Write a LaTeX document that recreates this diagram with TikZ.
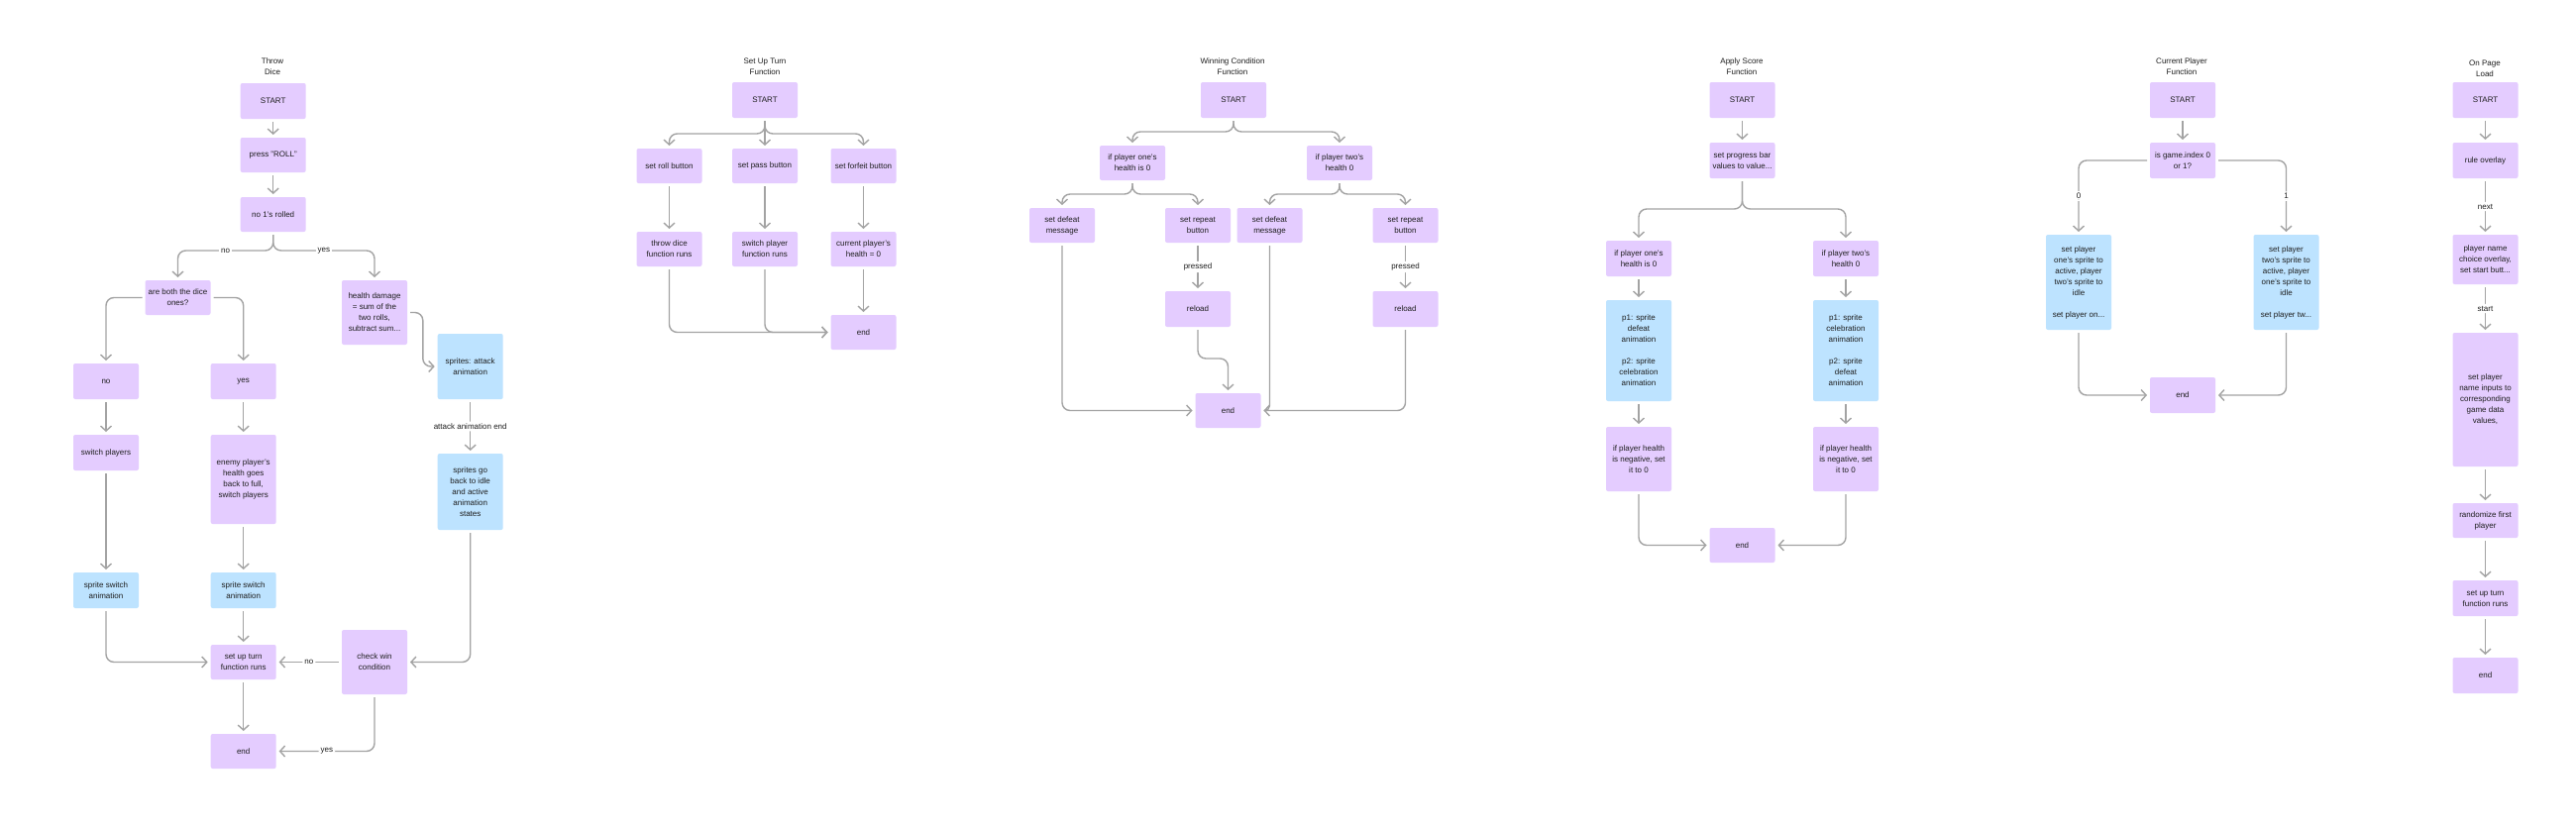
\documentclass[tikz,border=0pt]{standalone}
\usepackage{fontspec}
\setmainfont{Liberation Sans}
\usetikzlibrary{arrows.meta}
\definecolor{pfill}{HTML}{E4CCFF}
\definecolor{bfill}{HTML}{BDE3FF}
\definecolor{lgray}{HTML}{A3A3A3}
\definecolor{txt}{HTML}{1E1E1E}
\tikzset{
  box/.style={rounded corners=2pt, inner sep=0pt, outer sep=3pt, align=center, text=txt,
    font=\fontsize{8}{11}\selectfont, minimum width=66pt, minimum height=36pt},
  pbox/.style={box, fill=pfill},
  bbox/.style={box, fill=bfill},
  conn/.style={draw=lgray, line width=1.4pt, -{Straight Barb[length=5pt,width=11pt]}, rounded corners=8pt},
  plain/.style={draw=lgray, line width=1.4pt, rounded corners=8pt},
  lbl/.style={fill=white, inner sep=2pt, text=txt, font=\fontsize{8}{11}\selectfont},
  ttl/.style={align=center, text=txt, font=\fontsize{8}{11}\selectfont}
}
\begin{document}
\begin{tikzpicture}[x=1pt, y=-1pt]
\useasboundingbox[fill=white] (0,0) rectangle (2600,835);

% ===== Throw Dice =====
\node[ttl] (a0) at (275,67.5) {Throw\\Dice};
\node[pbox] (a1) at (275.7,102) {START};
\node[pbox, minimum height=35pt] (a2) at (275.7,156.5) {press "ROLL"};
\node[pbox, minimum height=35pt] (a3) at (275.7,216.5) {no 1's rolled};
\node[pbox, minimum height=35pt] (a4) at (179.5,300.5) {are both the dice\\ones?};
\node[pbox, minimum height=65pt] (a5) at (378,315.5) {health damage\\= sum of the\\two rolls,\\subtract sum...};
\node[bbox, minimum height=66pt] (a6) at (474.7,370) {sprites: attack\\animation};
\node[pbox] (a7) at (107,385) {no};
\node[pbox] (a8) at (245.7,385) {yes};
\node[pbox] (a9) at (107,457) {switch players};
\node[pbox, minimum height=90pt] (a10) at (245.7,484) {enemy player's\\health goes\\back to full,\\switch players};
\node[bbox] (a11) at (107,596) {sprite switch\\animation};
\node[bbox] (a12) at (245.7,596) {sprite switch\\animation};
\node[pbox, minimum height=35pt] (a13) at (245.7,668.5) {set up turn\\function runs};
\node[pbox, minimum height=35pt] (a14) at (245.7,758.5) {end};
\node[pbox, minimum height=65pt] (a15) at (378,668.5) {check win\\condition};
\node[bbox, minimum height=77pt] (a16) at (474.7,496.5) {sprites go\\back to idle\\and active\\animation\\states};

\draw[conn] (a1) -- (a2);
\draw[conn] (a2) -- (a3);
\draw[conn] (a3.south) -- (275.7,253) -| (a4.north);
\draw[conn] (a3.south) -- (275.7,253) -| (a5.north);
\node[lbl] (la1) at (227.5,253) {no};
\node[lbl] (la2) at (326.8,253) {yes};
\draw[conn] (a4.west) -| (a7.north);
\draw[conn] (a4.east) -| (a8.north);
\draw[conn] (a5.east) -- (426.8,315.5) -- (426.8,370) -- (a6.west);
\draw[conn] (a6.south) -- (a16.north) node[lbl, midway] (la3) {attack animation end};
\draw[conn] (a7) -- (a9);
\draw[conn] (a9) -- (a11);
\draw[conn] (a8) -- (a10);
\draw[conn] (a10) -- (a12);
\draw[conn] (a12) -- (a13);
\draw[conn] (a11.south) |- (a13.west);
\draw[conn] (a15.west) -- (a13.east) node[lbl, midway] (la4) {no};
\draw[conn] (a16.south) |- (a15.east);
\draw[conn] (a15.south) |- (a14.east) node[lbl, pos=0.75] (la5) {yes};
\draw[conn] (a13) -- (a14);

% ===== Set Up Turn =====
\node[ttl] (b0) at (772,67.5) {Set Up Turn\\Function};
\node[pbox] (b1) at (772,101) {START};
\node[pbox, minimum height=35pt] (b2) at (675.5,167.5) {set roll button};
\node[pbox, minimum height=35pt] (b3) at (772,167.5) {set pass button};
\node[pbox, minimum height=35pt] (b4) at (871.5,167.5) {set forfeit button};
\node[pbox, minimum height=35pt] (b5) at (675.5,251.5) {throw dice\\function runs};
\node[pbox, minimum height=35pt] (b6) at (772,251.5) {switch player\\function runs};
\node[pbox, minimum height=35pt] (b7) at (871.5,251.5) {current player's\\health = 0};
\node[pbox, minimum height=35pt] (b8) at (871.5,335.5) {end};

\draw[conn] (b1.south) -- (772,135) -| (b2.north);
\draw[conn] (b1) -- (b3);
\draw[conn] (b1.south) -- (772,135) -| (b4.north);
\draw[conn] (b2) -- (b5);
\draw[conn] (b3) -- (b6);
\draw[conn] (b4) -- (b7);
\draw[conn] (b7) -- (b8);
\draw[conn] (b5.south) |- (b8.west);
\draw[conn] (b6.south) |- (b8.west);

% ===== Winning Condition =====
\node[ttl] (c0) at (1244,67.5) {Winning Condition\\Function};
\node[pbox] (c1) at (1245,101) {START};
\node[pbox, minimum height=35pt] (c2) at (1143,164.5) {if player one's\\health is 0};
\node[pbox, minimum height=35pt] (c3) at (1352,164.5) {if player two's\\health 0};
\node[pbox, minimum height=35pt] (c4) at (1072,227.5) {set defeat\\message};
\node[pbox, minimum height=35pt] (c5) at (1209,227.5) {set repeat\\button};
\node[pbox, minimum height=35pt] (c6) at (1281.5,227.5) {set defeat\\message};
\node[pbox, minimum height=35pt] (c7) at (1418.5,227.5) {set repeat\\button};
\node[pbox] (c8) at (1209,312) {reload};
\node[pbox] (c9) at (1418.5,312) {reload};
\node[pbox, minimum height=35pt] (c10) at (1239.5,414.5) {end};

\draw[conn] (c1.south) -- (1245,133) -| (c2.north);
\draw[conn] (c1.south) -- (1245,133) -| (c3.north);
\draw[conn] (c2.south) -- (1143,196) -| (c4.north);
\draw[conn] (c2.south) -- (1143,196) -| (c5.north);
\draw[conn] (c3.south) -- (1352,196) -| (c6.north);
\draw[conn] (c3.south) -- (1352,196) -| (c7.north);
\draw[conn] (c5.south) -- (c8.north) node[lbl, midway] (lc1) {pressed};
\draw[conn] (c7.south) -- (c9.north) node[lbl, midway] (lc2) {pressed};
\draw[conn] (c4.south) |- (c10.west);
\draw[conn] (c8.south) -- (1209,362) -- (1239.5,362) -- (c10.north);
\draw[conn] (c9.south) |- (c10.east);
\draw[plain, rounded corners=5pt] (c6.south) |- (c10.east);

% ===== Apply Score =====
\node[ttl] (d0) at (1758,67.5) {Apply Score\\Function};
\node[pbox] (d1) at (1758.5,101) {START};
\node[pbox] (d2) at (1758.5,162) {set progress bar\\values to value...};
\node[pbox] (d3) at (1654,261) {if player one's\\health is 0};
\node[pbox] (d4) at (1863,261) {if player two's\\health 0};
\node[bbox, minimum height=102pt] (d5) at (1654,354) {p1: sprite\\defeat\\animation\\[11pt]p2: sprite\\celebration\\animation};
\node[bbox, minimum height=102pt] (d6) at (1863,354) {p1: sprite\\celebration\\animation\\[11pt]p2: sprite\\defeat\\animation};
\node[pbox, minimum height=65pt] (d7) at (1654,463.5) {if player health\\is negative, set\\it to 0};
\node[pbox, minimum height=65pt] (d8) at (1863,463.5) {if player health\\is negative, set\\it to 0};
\node[pbox, minimum height=35pt] (d9) at (1758.5,550.5) {end};

\draw[conn] (d1) -- (d2);
\draw[conn] (d2.south) -- (1758.5,211) -| (d3.north);
\draw[conn] (d2.south) -- (1758.5,211) -| (d4.north);
\draw[conn] (d3) -- (d5);
\draw[conn] (d4) -- (d6);
\draw[conn] (d5) -- (d7);
\draw[conn] (d6) -- (d8);
\draw[conn] (d7.south) |- (d9.west);
\draw[conn] (d8.south) |- (d9.east);

% ===== Current Player =====
\node[ttl] (e0) at (2202,67.5) {Current Player\\Function};
\node[pbox] (e1) at (2203,101) {START};
\node[pbox] (e2) at (2203,162) {is game.index 0\\or 1?};
\node[bbox, minimum height=96pt] (e3) at (2098,285) {set player\\one's sprite to\\active, player\\two's sprite to\\idle\\[11pt]set player on...};
\node[bbox, minimum height=96pt] (e4) at (2307.5,285) {set player\\two's sprite to\\active, player\\one's sprite to\\idle\\[11pt]set player tw...};
\node[pbox] (e5) at (2203,399) {end};

\draw[conn] (e1) -- (e2);
\draw[conn] (e2.west) -| (e3.north) node[lbl, pos=0.75] (le1) {0};
\draw[conn] (e2.east) -| (e4.north) node[lbl, pos=0.75] (le2) {1};
\draw[conn] (e3.south) |- (e5.west);
\draw[conn] (e4.south) |- (e5.east);

% ===== On Page Load =====
\node[ttl] (f0) at (2508,69.5) {On Page\\Load};
\node[pbox] (f1) at (2508.5,101) {START};
\node[pbox] (f2) at (2508.5,162) {rule overlay};
\node[pbox, minimum height=50pt] (f3) at (2508.5,262) {player name\\choice overlay,\\set start butt...};
\node[pbox, minimum height=135pt] (f4) at (2508.5,403.5) {set player\\name inputs to\\corresponding\\game data\\values,};
\node[pbox, minimum height=35pt] (f5) at (2508.5,525.5) {randomize first\\player};
\node[pbox] (f6) at (2508.5,604) {set up turn\\function runs};
\node[pbox] (f7) at (2508.5,682) {end};

\draw[conn] (f1) -- (f2);
\draw[conn] (f2.south) -- (f3.north) node[lbl, midway] (lf1) {next};
\draw[conn] (f3.south) -- (f4.north) node[lbl, midway] (lf2) {start};
\draw[conn] (f4) -- (f5);
\draw[conn] (f5) -- (f6);
\draw[conn] (f6) -- (f7);
\end{tikzpicture}
\end{document}
